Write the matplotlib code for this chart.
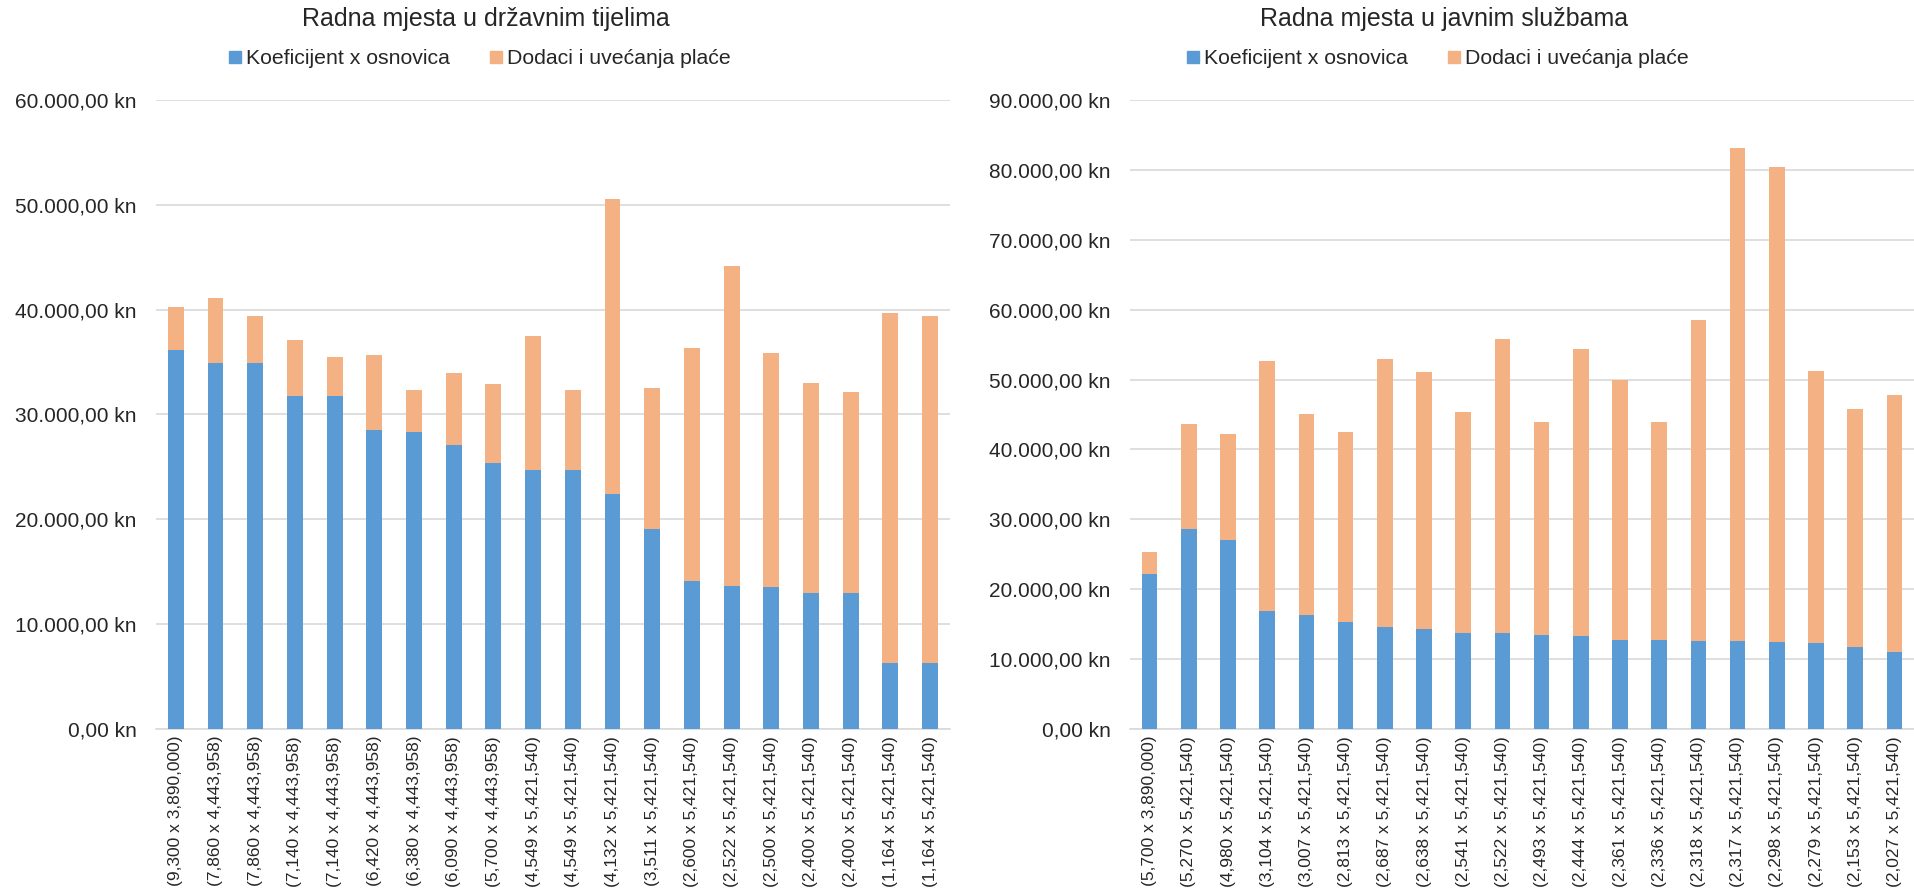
import numpy as np
import matplotlib.pyplot as plt
from matplotlib.ticker import FuncFormatter, MultipleLocator
from matplotlib.patches import Patch

plt.rcParams['font.family'] = ['Liberation Sans', 'DejaVu Sans']

# Radna mjesta u državnim tijelima
labels_drz = ['(9,300 x 3,890,000)', '(7,860 x 4,443,958)', '(7,860 x 4,443,958)',
              '(7,140 x 4,443,958)', '(7,140 x 4,443,958)', '(6,420 x 4,443,958)',
              '(6,380 x 4,443,958)', '(6,090 x 4,443,958)', '(5,700 x 4,443,958)',
              '(4,549 x 5,421,540)', '(4,549 x 5,421,540)', '(4,132 x 5,421,540)',
              '(3,511 x 5,421,540)', '(2,600 x 5,421,540)', '(2,522 x 5,421,540)',
              '(2,500 x 5,421,540)', '(2,400 x 5,421,540)', '(2,400 x 5,421,540)',
              '(1,164 x 5,421,540)', '(1,164 x 5,421,540)']
osnovna_drz = [36177, 34930, 34930, 31730, 31730, 28530, 28352, 27064, 25331, 24663,
               24663, 22402, 19035, 14096, 13673, 13554, 13012, 13012, 6311, 6311]
dodaci_drz = [4063, 6190, 4510, 5340, 3770, 7170, 4018, 6916, 7559, 12847,
              7707, 28198, 13535, 22214, 30507, 22346, 19958, 19158, 33369, 33049]

# Radna mjesta u javnim službama
labels_jav = ['(5,700 x 3,890,000)', '(5,270 x 5,421,540)', '(4,980 x 5,421,540)',
              '(3,104 x 5,421,540)', '(3,007 x 5,421,540)', '(2,813 x 5,421,540)',
              '(2,687 x 5,421,540)', '(2,638 x 5,421,540)', '(2,541 x 5,421,540)',
              '(2,522 x 5,421,540)', '(2,493 x 5,421,540)', '(2,444 x 5,421,540)',
              '(2,361 x 5,421,540)', '(2,336 x 5,421,540)', '(2,318 x 5,421,540)',
              '(2,317 x 5,421,540)', '(2,298 x 5,421,540)', '(2,279 x 5,421,540)',
              '(2,153 x 5,421,540)', '(2,027 x 5,421,540)']
osnovna_jav = [22173, 28572, 26999, 16829, 16303, 15251, 14568, 14302, 13776, 13673,
               13516, 13250, 12800, 12665, 12567, 12562, 12459, 12356, 11673, 10990]
dodaci_jav = [3127, 15038, 15171, 35881, 28817, 27219, 38442, 36778, 31644, 42107,
              30464, 41090, 37080, 31315, 45983, 70628, 68021, 38844, 34047, 36840]

BLUE = '#5B9BD5'
ORANGE = '#F4B183'
GRID = '#D9D9D9'
TXT = '#262626'


def kn(v, pos):
    s = '{:,.2f}'.format(v)
    s = s.replace(',', 'X').replace('.', ',').replace('X', '.')
    return s + ' kn'


def draw(ax, labels, base, extra, ymax, step):
    x = np.arange(len(labels))
    ax.bar(x, base, width=0.4, color=BLUE, zorder=3)
    ax.bar(x, extra, width=0.4, bottom=base, color=ORANGE, zorder=3)
    ax.set_xlim(-0.5, len(labels) - 0.5)
    ax.set_ylim(0, ymax)
    ax.yaxis.set_major_locator(MultipleLocator(step))
    ax.yaxis.set_major_formatter(FuncFormatter(kn))
    ax.set_xticks(x)
    ax.set_xticklabels(labels, rotation=90, fontsize=12.5, color=TXT)
    ax.tick_params(axis='y', length=0, pad=14, labelsize=15, labelcolor=TXT)
    ax.tick_params(axis='x', length=0, pad=5)
    ax.grid(axis='y', color=GRID, linewidth=1.2, zorder=0)
    for s in ['left', 'right', 'top']:
        ax.spines[s].set_visible(False)
    ax.spines['bottom'].set_color(GRID)
    ax.spines['bottom'].set_linewidth(1.2)


fig = plt.figure(figsize=(19.14, 8.91), dpi=100)
ax1 = fig.add_axes([0.0815, 0.1818, 0.4148, 0.706])
ax2 = fig.add_axes([0.5904, 0.1818, 0.4096, 0.706])

draw(ax1, labels_drz, osnovna_drz, dodaci_drz, 60000, 10000)
draw(ax2, labels_jav, osnovna_jav, dodaci_jav, 90000, 10000)

fig.text(486 / 1914, 1 - 19 / 891, 'Radna mjesta u državnim tijelima',
         ha='center', va='center', fontsize=18, color=TXT)
fig.text(1444 / 1914, 1 - 19 / 891, 'Radna mjesta u javnim službama',
         ha='center', va='center', fontsize=18, color=TXT)

handles = [Patch(color=BLUE, label='Koeficijent x osnovica'),
           Patch(color=ORANGE, label='Dodaci i uvećanja plaće')]
for cx in [480 / 1914, 1438 / 1914]:
    fig.legend(handles=handles, loc='center', bbox_to_anchor=(cx, 1 - 59 / 891),
               ncol=2, frameon=False, fontsize=15.3, handlelength=0.55,
               handleheight=0.55, handletextpad=0.25, columnspacing=1.9,
               labelcolor=TXT)

fig.savefig('out.png', dpi=100)
